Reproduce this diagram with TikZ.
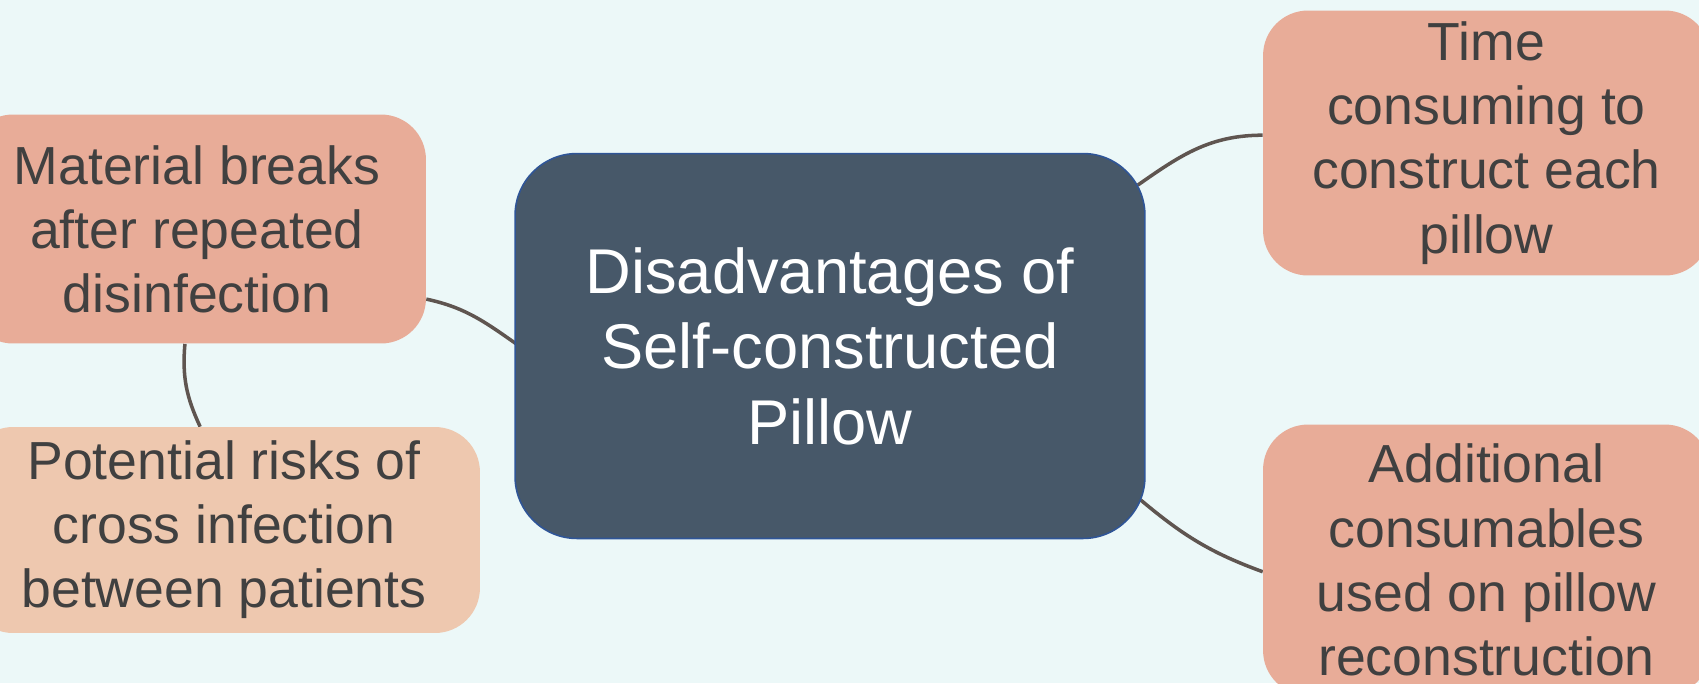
\documentclass[tikz,border=0pt]{standalone}
\usepackage{fontspec}
\setmainfont{Liberation Sans}
\usepackage{tikz}
\usetikzlibrary{backgrounds}
\definecolor{bgcyan}{HTML}{ECF8F8}
\definecolor{slate}{HTML}{475869}
\definecolor{slateedge}{HTML}{2F5597}
\definecolor{salmon}{HTML}{E8AC98}
\definecolor{peach}{HTML}{EEC8AF}
\definecolor{inkgrey}{HTML}{404040}
\definecolor{linkbrown}{HTML}{5F5550}
\tikzset{
  topic/.style={draw=slateedge,line width=0.9pt,fill=slate,text=white,rounded corners=1.24cm,
                align=center,font=\fontsize{36}{43}\selectfont,inner sep=0pt},
  sub/.style={fill=salmon,text=inkgrey,rounded corners=0.9cm,align=center,
              font=\fontsize{30.5}{36.5}\selectfont,inner sep=0pt},
  subpale/.style={sub,fill=peach},
  link/.style={linkbrown,line width=2pt},
}

\begin{document}
\begin{tikzpicture}[x=0.02cm,y=0.02cm]
  \useasboundingbox (0,-683) rectangle (1699,0);
  \node[topic,minimum width=12.6cm,minimum height=7.7cm] (ctr) at (830,-346) {Disadvantages of\\Self-constructed\\Pillow};
  \node[sub,minimum width=9.16cm,minimum height=4.58cm] (mat) at (197,-229) {Material breaks\\after repeated\\disinfection};
  \node[subpale,minimum width=10.24cm,minimum height=4.12cm] (pot) at (224,-530) {Potential risks of\\cross infection\\between patients};
  \node[sub,minimum width=8.94cm,minimum height=5.3cm] (time) at (1486.5,-143) {Time\\consuming to\\construct each\\pillow};
  \node[sub,minimum width=8.94cm,minimum height=5.42cm] (add) at (1486.5,-560) {Additional\\consumables\\used on pillow\\reconstruction};
  \begin{scope}[on background layer]
    \fill[bgcyan] (0,-683) rectangle (1699,0);
    \draw[link] ([xshift=0.1cm]ctr.180) to[out=145,in=-12] (mat.-17);
    \draw[link] (mat.-96) to[out=-95,in=115] (pot.103);
    \draw[link] ([xshift=-0.16cm]ctr.27) to[out=35,in=180] (time.178);
    \draw[link] ([xshift=-0.1cm]ctr.-26) to[out=-40,in=160] (add.183);
  \end{scope}
\end{tikzpicture}
\end{document}
